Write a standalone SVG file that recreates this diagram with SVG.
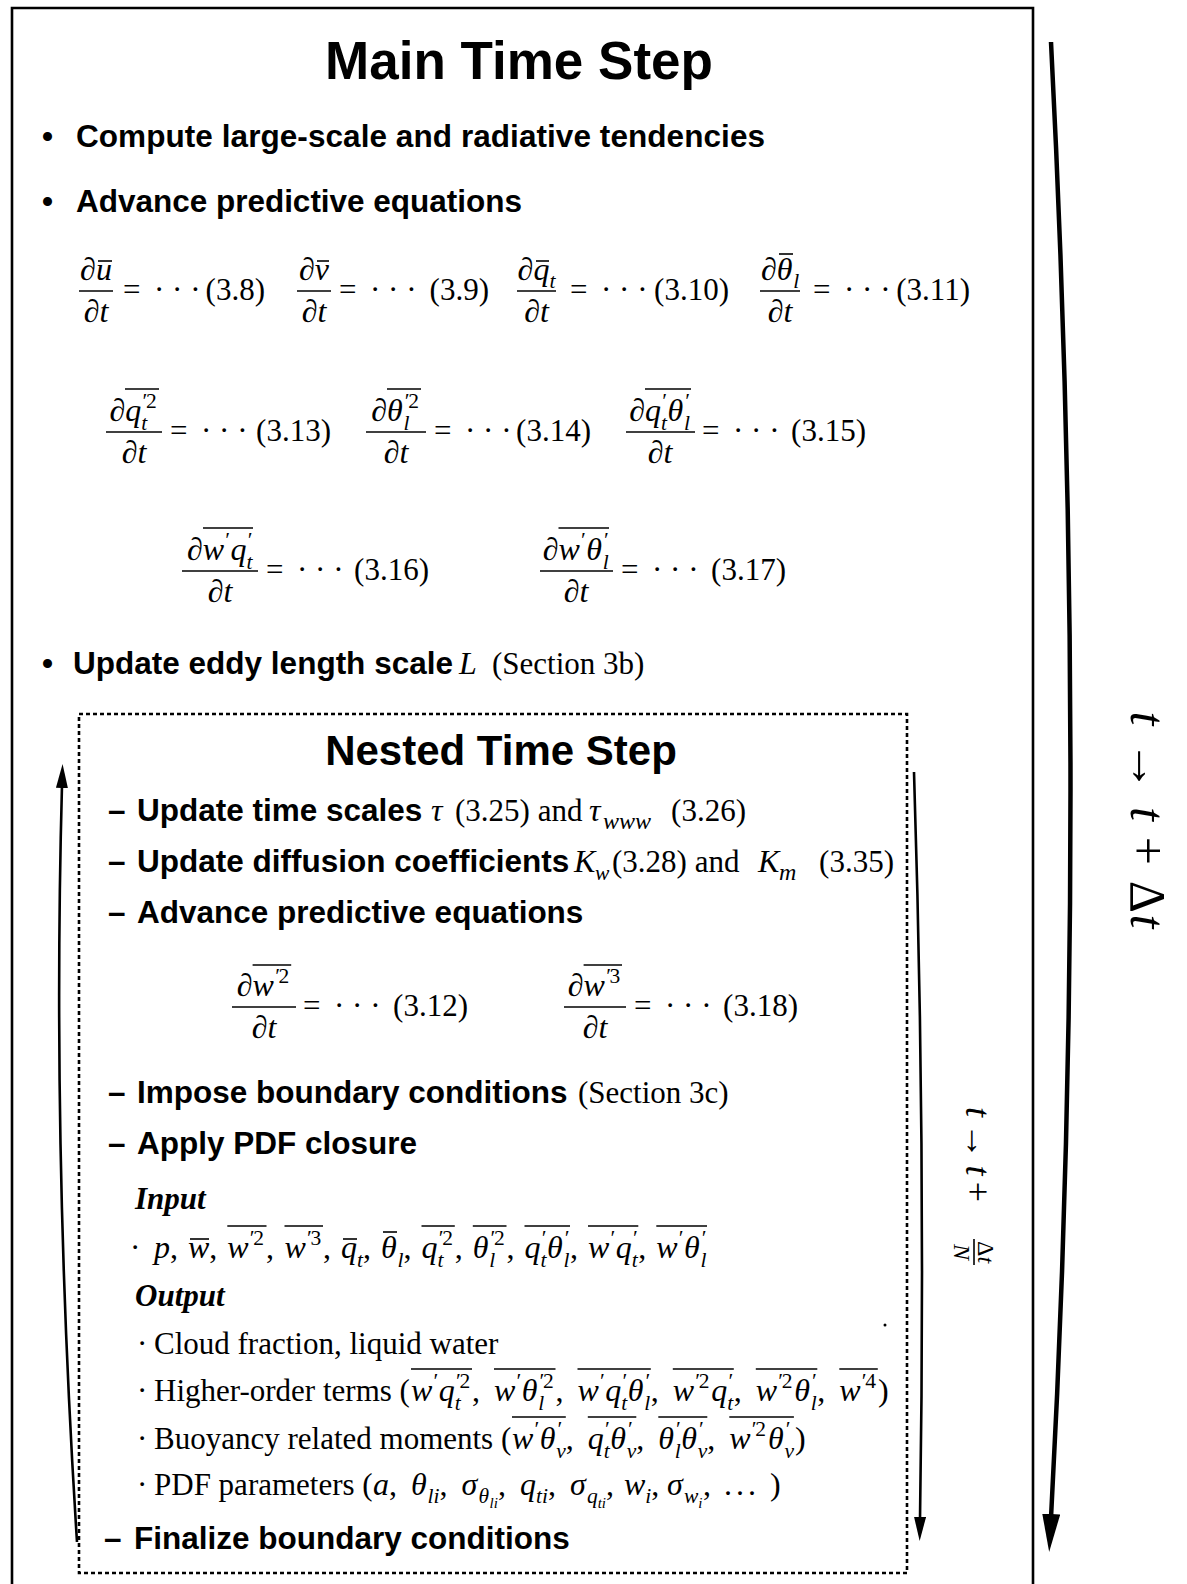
<svg xmlns="http://www.w3.org/2000/svg" width="1187" height="1584" viewBox="0 0 1187 1584">
<style>
.b{font-family:"Liberation Sans",Arial,sans-serif;font-weight:700;font-size:31.5px}
.t{font-family:"Liberation Sans",Arial,sans-serif;font-weight:700}
.r{font-family:"Liberation Serif","Times New Roman",serif;font-size:31px}
.m{font-family:"Liberation Serif","Times New Roman",serif;font-style:italic;font-size:32px}
.bi{font-family:"Liberation Serif","Times New Roman",serif;font-style:italic;font-weight:700;font-size:31px}
.s{font-size:21.5px}
.ss{font-size:15px}
.p{font-size:22px;font-style:normal}
.u{font-style:normal}
.ol,.fr{stroke:#000;stroke-width:1.6}
.box{fill:none;stroke:#000;stroke-width:2.6}
.dot{fill:none;stroke:#000;stroke-width:2.6;stroke-dasharray:4 3}
.arr{fill:none;stroke:#000}
</style>
<defs>
<marker id="big" markerUnits="userSpaceOnUse" markerWidth="38" markerHeight="18" refX="4" refY="9" orient="auto"><path d="M0,0 L38,9 L0,18 z" fill="#000"/></marker>
<marker id="sm" markerUnits="userSpaceOnUse" markerWidth="24" markerHeight="12" refX="3" refY="6" orient="auto"><path d="M0,0 L24,6 L0,12 z" fill="#000"/></marker>
</defs>
<rect width="1187" height="1584" fill="#fff"/>

<g id="main-box">
<path class="box" d="M12,1584 V8 H1033 V1584"/>
<text class="t" x="519" y="79" font-size="53" text-anchor="middle">Main Time Step</text>
<text class="b" x="42" y="147">•</text>
<text class="b" x="76" y="147" textLength="689">Compute large-scale and radiative tendencies</text>
<text class="b" x="42" y="212">•</text>
<text class="b" x="76" y="212" textLength="446">Advance predictive equations</text>
<text class="b" x="42" y="674">•</text>
<text class="b" x="73" y="674" textLength="380">Update eddy length scale</text>
<text class="m" x="459" y="674">L</text>
<text class="r" x="492" y="674">(Section 3b)</text>
</g>

<g id="eq-row1">
<text class="m"><tspan x="80" y="280">∂</tspan><tspan x="96" y="280">u</tspan></text>
<line class="ol" x1="98" y1="261" x2="112" y2="261"/>
<line class="fr" x1="79" y1="291" x2="113" y2="291"/>
<text class="m" x="96" y="322" text-anchor="middle">∂t</text>
<text class="r" y="300"><tspan x="123">=</tspan><tspan x="154">· · ·</tspan></text>
<text class="r" x="265" y="300" text-anchor="end">(3.8)</text>

<text class="m"><tspan x="299" y="280">∂</tspan><tspan x="314.8" y="280">v</tspan></text>
<line class="ol" x1="317" y1="261" x2="329" y2="261"/>
<line class="fr" x1="297" y1="291" x2="331" y2="291"/>
<text class="m" x="314" y="322" text-anchor="middle">∂t</text>
<text class="r" y="300"><tspan x="339">=</tspan><tspan x="370">· · ·</tspan></text>
<text class="r" x="489" y="300" text-anchor="end">(3.9)</text>

<text class="m"><tspan x="517.6" y="280">∂</tspan><tspan x="533.4" y="280">q</tspan><tspan class="s" x="549.4" y="288">t</tspan></text>
<line class="ol" x1="536" y1="261" x2="549" y2="261"/>
<line class="fr" x1="517" y1="291" x2="556" y2="291"/>
<text class="m" x="536.5" y="322" text-anchor="middle">∂t</text>
<text class="r" y="300"><tspan x="570">=</tspan><tspan x="601">· · ·</tspan></text>
<text class="r" x="729" y="300" text-anchor="end">(3.10)</text>

<text class="m"><tspan x="760.9" y="280">∂</tspan><tspan x="776.7" y="280">θ</tspan><tspan class="s" x="793.2" y="288">l</tspan></text>
<line class="ol" x1="779" y1="254" x2="793" y2="254"/>
<line class="fr" x1="760" y1="291" x2="800" y2="291"/>
<text class="m" x="780" y="322" text-anchor="middle">∂t</text>
<text class="r" y="300"><tspan x="813">=</tspan><tspan x="844">· · ·</tspan></text>
<text class="r" x="970" y="300" text-anchor="end">(3.11)</text>
</g>

<g id="eq-row2">
<text class="m"><tspan x="109.5" y="421">∂</tspan><tspan x="125.3" y="421">q</tspan><tspan class="s" x="141.3" y="408">′<tspan class="u">2</tspan></tspan><tspan class="s" x="141.3" y="430">t</tspan></text>
<line class="ol" x1="125" y1="389" x2="159" y2="389"/>
<line class="fr" x1="106" y1="432" x2="162" y2="432"/>
<text class="m" x="134" y="463" text-anchor="middle">∂t</text>
<text class="r" y="441"><tspan x="170">=</tspan><tspan x="201">· · ·</tspan></text>
<text class="r" x="331" y="441" text-anchor="end">(3.13)</text>

<text class="m"><tspan x="371.2" y="421">∂</tspan><tspan x="387" y="421">θ</tspan><tspan class="s" x="403.5" y="408">′<tspan class="u">2</tspan></tspan><tspan class="s" x="403.5" y="430">l</tspan></text>
<line class="ol" x1="387" y1="389" x2="421" y2="389"/>
<line class="fr" x1="366" y1="432" x2="426" y2="432"/>
<text class="m" x="396" y="463" text-anchor="middle">∂t</text>
<text class="r" y="441"><tspan x="434">=</tspan><tspan x="465">· · ·</tspan></text>
<text class="r" x="591" y="441" text-anchor="end">(3.14)</text>

<text class="m"><tspan x="629.3" y="421">∂</tspan><tspan x="645.1" y="421">q</tspan><tspan class="s" x="661.1" y="408">′</tspan><tspan class="s" x="661.1" y="430">t</tspan><tspan x="667.6" y="421">θ</tspan><tspan class="s" x="684.1" y="408">′</tspan><tspan class="s" x="684.1" y="430">l</tspan></text>
<line class="ol" x1="645" y1="389" x2="691" y2="389"/>
<line class="fr" x1="626" y1="432" x2="695" y2="432"/>
<text class="m" x="660" y="463" text-anchor="middle">∂t</text>
<text class="r" y="441"><tspan x="702">=</tspan><tspan x="733">· · ·</tspan></text>
<text class="r" x="866" y="441" text-anchor="end">(3.15)</text>
</g>

<g id="eq-row3">
<text class="m"><tspan x="187" y="560">∂</tspan><tspan x="202.8" y="560">w</tspan><tspan class="s" x="224.1" y="547">′</tspan><tspan x="230.6" y="560">q</tspan><tspan class="s" x="246.6" y="547">′</tspan><tspan class="s" x="246.6" y="569">t</tspan></text>
<line class="ol" x1="203" y1="528" x2="253" y2="528"/>
<line class="fr" x1="182" y1="571" x2="258" y2="571"/>
<text class="m" x="220" y="602" text-anchor="middle">∂t</text>
<text class="r" y="580"><tspan x="266">=</tspan><tspan x="297">· · ·</tspan></text>
<text class="r" x="429" y="580" text-anchor="end">(3.16)</text>

<text class="m"><tspan x="542.7" y="560">∂</tspan><tspan x="558.5" y="560">w</tspan><tspan class="s" x="579.8" y="547">′</tspan><tspan x="586.3" y="560">θ</tspan><tspan class="s" x="602.8" y="547">′</tspan><tspan class="s" x="602.8" y="569">l</tspan></text>
<line class="ol" x1="558.5" y1="528" x2="609" y2="528"/>
<line class="fr" x1="540" y1="571" x2="613" y2="571"/>
<text class="m" x="576" y="602" text-anchor="middle">∂t</text>
<text class="r" y="580"><tspan x="621">=</tspan><tspan x="652">· · ·</tspan></text>
<text class="r" x="786" y="580" text-anchor="end">(3.17)</text>
</g>

<g id="nested-box">
<rect class="dot" x="79" y="714" width="828" height="859"/>
<text class="t" x="501" y="765" font-size="42" text-anchor="middle">Nested Time Step</text>

<text class="b" x="108" y="821">–</text>
<text class="b" x="137" y="821">Update time scales</text>
<text class="m" x="431" y="821">τ</text>
<text class="r" x="455" y="821">(3.25) and</text>
<text class="m"><tspan x="589" y="821">τ</tspan><tspan class="s" x="603" y="829" style="font-size:24px">www</tspan></text>
<text class="r" x="746" y="821" text-anchor="end">(3.26)</text>

<text class="b" x="108" y="872">–</text>
<text class="b" x="137" y="872">Update diffusion coefficients</text>
<text class="m"><tspan x="574" y="872">K</tspan><tspan class="s" x="595" y="880">w</tspan></text>
<text class="r" x="612" y="872">(3.28) and</text>
<text class="m"><tspan x="758" y="872">K</tspan><tspan class="s" x="779" y="880" style="font-size:24px">m</tspan></text>
<text class="r" x="894" y="872" text-anchor="end">(3.35)</text>

<text class="b" x="108" y="923">–</text>
<text class="b" x="137" y="923">Advance predictive equations</text>

<text class="m"><tspan x="236.8" y="996">∂</tspan><tspan x="252.6" y="996">w</tspan><tspan class="s" x="273.9" y="983">′<tspan class="u">2</tspan></tspan></text>
<line class="ol" x1="252.6" y1="965" x2="291.2" y2="965"/>
<line class="fr" x1="232" y1="1007" x2="296" y2="1007"/>
<text class="m" x="264" y="1038" text-anchor="middle">∂t</text>
<text class="r" y="1016"><tspan x="303">=</tspan><tspan x="334">· · ·</tspan></text>
<text class="r" x="468" y="1016" text-anchor="end">(3.12)</text>

<text class="m"><tspan x="567.8" y="996">∂</tspan><tspan x="583.6" y="996">w</tspan><tspan class="s" x="604.9" y="983">′<tspan class="u">3</tspan></tspan></text>
<line class="ol" x1="583.6" y1="965" x2="622" y2="965"/>
<line class="fr" x1="564" y1="1007" x2="626" y2="1007"/>
<text class="m" x="595" y="1038" text-anchor="middle">∂t</text>
<text class="r" y="1016"><tspan x="634">=</tspan><tspan x="665">· · ·</tspan></text>
<text class="r" x="798" y="1016" text-anchor="end">(3.18)</text>

<text class="b" x="108" y="1103">–</text>
<text class="b" x="137" y="1103">Impose boundary conditions</text>
<text class="r" x="578" y="1103">(Section 3c)</text>

<text class="b" x="108" y="1154">–</text>
<text class="b" x="137" y="1154">Apply PDF closure</text>

<text class="bi" x="135" y="1209">Input</text>
<text class="r" x="130" y="1258">·</text>
<text class="m">
<tspan x="154" y="1258">p</tspan><tspan class="u" x="170" y="1258">,</tspan>
<tspan x="188" y="1258">w</tspan><tspan class="u" x="209.3" y="1258">,</tspan>
<tspan x="227.3" y="1258">w</tspan><tspan class="s" x="248.6" y="1245">′<tspan class="u">2</tspan></tspan><tspan class="u" x="266" y="1258">,</tspan>
<tspan x="284.5" y="1258">w</tspan><tspan class="s" x="305.8" y="1245">′<tspan class="u">3</tspan></tspan><tspan class="u" x="323" y="1258">,</tspan>
<tspan x="341" y="1258">q</tspan><tspan class="s" x="357" y="1267">t</tspan><tspan class="u" x="363" y="1258">,</tspan>
<tspan x="381" y="1258">θ</tspan><tspan class="s" x="397.5" y="1267">l</tspan><tspan class="u" x="403.5" y="1258">,</tspan>
<tspan x="421.5" y="1258">q</tspan><tspan class="s" x="437.5" y="1245">′<tspan class="u">2</tspan></tspan><tspan class="s" x="437.5" y="1267">t</tspan><tspan class="u" x="454.8" y="1258">,</tspan>
<tspan x="472.8" y="1258">θ</tspan><tspan class="s" x="489.3" y="1245">′<tspan class="u">2</tspan></tspan><tspan class="s" x="489.3" y="1267">l</tspan><tspan class="u" x="506.5" y="1258">,</tspan>
<tspan x="524.5" y="1258">q</tspan><tspan class="s" x="540.5" y="1245">′</tspan><tspan class="s" x="540.5" y="1267">t</tspan><tspan x="547" y="1258">θ</tspan><tspan class="s" x="563.5" y="1245">′</tspan><tspan class="s" x="563.5" y="1267">l</tspan><tspan class="u" x="570" y="1258">,</tspan>
<tspan x="588" y="1258">w</tspan><tspan class="s" x="609.3" y="1245">′</tspan><tspan x="615.8" y="1258">q</tspan><tspan class="s" x="631.8" y="1245">′</tspan><tspan class="s" x="631.8" y="1267">t</tspan><tspan class="u" x="638.3" y="1258">,</tspan>
<tspan x="656.3" y="1258">w</tspan><tspan class="s" x="677.6" y="1245">′</tspan><tspan x="684.1" y="1258">θ</tspan><tspan class="s" x="700.6" y="1245">′</tspan><tspan class="s" x="700.6" y="1267">l</tspan>
</text>
<line class="ol" x1="190" y1="1239" x2="209" y2="1239"/>
<line class="ol" x1="227.3" y1="1226" x2="266.5" y2="1226"/>
<line class="ol" x1="284.5" y1="1226" x2="323" y2="1226"/>
<line class="ol" x1="343" y1="1239" x2="357" y2="1239"/>
<line class="ol" x1="383" y1="1232" x2="397" y2="1232"/>
<line class="ol" x1="421.5" y1="1226" x2="454.8" y2="1226"/>
<line class="ol" x1="472.8" y1="1226" x2="506.5" y2="1226"/>
<line class="ol" x1="524.5" y1="1226" x2="570" y2="1226"/>
<line class="ol" x1="588" y1="1226" x2="638.3" y2="1226"/>
<line class="ol" x1="656.3" y1="1226" x2="707" y2="1226"/>

<text class="bi" x="135" y="1306">Output</text>
<text class="r" x="137" y="1354">·</text>
<text class="r" x="154" y="1354">Cloud fraction, liquid water</text>
<circle cx="885" cy="1325" r="1.5" fill="#000"/>

<text class="r" x="137" y="1401">·</text>
<text class="r" x="154" y="1401">Higher-order terms (</text>
<text class="m">
<tspan x="411" y="1401">w</tspan><tspan class="s" x="432.3" y="1388">′</tspan><tspan x="438.8" y="1401">q</tspan><tspan class="s" x="454.8" y="1388">′<tspan class="u">2</tspan></tspan><tspan class="s" x="454.8" y="1410">t</tspan><tspan class="u" x="472" y="1401">,</tspan>
<tspan x="494" y="1401">w</tspan><tspan class="s" x="515.3" y="1388">′</tspan><tspan x="521.8" y="1401">θ</tspan><tspan class="s" x="538.3" y="1388">′<tspan class="u">2</tspan></tspan><tspan class="s" x="538.3" y="1410">l</tspan><tspan class="u" x="555.5" y="1401">,</tspan>
<tspan x="577.5" y="1401">w</tspan><tspan class="s" x="598.8" y="1388">′</tspan><tspan x="605.3" y="1401">q</tspan><tspan class="s" x="621.3" y="1388">′</tspan><tspan class="s" x="621.3" y="1410">t</tspan><tspan x="627.8" y="1401">θ</tspan><tspan class="s" x="644.3" y="1388">′</tspan><tspan class="s" x="644.3" y="1410">l</tspan><tspan class="u" x="650.8" y="1401">,</tspan>
<tspan x="672.8" y="1401">w</tspan><tspan class="s" x="694.1" y="1388">′<tspan class="u">2</tspan></tspan><tspan x="711.3" y="1401">q</tspan><tspan class="s" x="727.3" y="1388">′</tspan><tspan class="s" x="727.3" y="1410">t</tspan><tspan class="u" x="733.8" y="1401">,</tspan>
<tspan x="755.8" y="1401">w</tspan><tspan class="s" x="777.1" y="1388">′<tspan class="u">2</tspan></tspan><tspan x="794.3" y="1401">θ</tspan><tspan class="s" x="810.8" y="1388">′</tspan><tspan class="s" x="810.8" y="1410">l</tspan><tspan class="u" x="817.3" y="1401">,</tspan>
<tspan x="839.3" y="1401">w</tspan><tspan class="s" x="860.6" y="1388">′<tspan class="u">4</tspan></tspan><tspan class="u" x="878" y="1401">)</tspan>
</text>
<line class="ol" x1="411" y1="1369" x2="472" y2="1369"/>
<line class="ol" x1="494" y1="1369" x2="555.5" y2="1369"/>
<line class="ol" x1="577.5" y1="1369" x2="650.8" y2="1369"/>
<line class="ol" x1="672.8" y1="1369" x2="733.8" y2="1369"/>
<line class="ol" x1="755.8" y1="1369" x2="817.3" y2="1369"/>
<line class="ol" x1="839.3" y1="1369" x2="877.8" y2="1369"/>

<text class="r" x="137" y="1449">·</text>
<text class="r" x="154" y="1449">Buoyancy related moments (</text>
<text class="m">
<tspan x="512" y="1449">w</tspan><tspan class="s" x="533.3" y="1436">′</tspan><tspan x="539.8" y="1449">θ</tspan><tspan class="s" x="556.3" y="1436">′</tspan><tspan class="s" x="556.3" y="1458">v</tspan><tspan class="u" x="565.8" y="1449">,</tspan>
<tspan x="587.8" y="1449">q</tspan><tspan class="s" x="603.8" y="1436">′</tspan><tspan class="s" x="603.8" y="1458">t</tspan><tspan x="610.3" y="1449">θ</tspan><tspan class="s" x="626.8" y="1436">′</tspan><tspan class="s" x="626.8" y="1458">v</tspan><tspan class="u" x="636.3" y="1449">,</tspan>
<tspan x="658.3" y="1449">θ</tspan><tspan class="s" x="674.8" y="1436">′</tspan><tspan class="s" x="674.8" y="1458">l</tspan><tspan x="681.3" y="1449">θ</tspan><tspan class="s" x="697.8" y="1436">′</tspan><tspan class="s" x="697.8" y="1458">v</tspan><tspan class="u" x="707.3" y="1449">,</tspan>
<tspan x="729.3" y="1449">w</tspan><tspan class="s" x="750.6" y="1436">′<tspan class="u">2</tspan></tspan><tspan x="767.9" y="1449">θ</tspan><tspan class="s" x="784.4" y="1436">′</tspan><tspan class="s" x="784.4" y="1458">v</tspan><tspan class="u" x="795" y="1449">)</tspan>
</text>
<line class="ol" x1="512" y1="1417" x2="565.8" y2="1417"/>
<line class="ol" x1="587.8" y1="1417" x2="636.3" y2="1417"/>
<line class="ol" x1="658.3" y1="1417" x2="707.3" y2="1417"/>
<line class="ol" x1="729.3" y1="1417" x2="793.9" y2="1417"/>

<text class="r" x="137" y="1495">·</text>
<text class="r" x="154" y="1495">PDF parameters (</text>
<text class="m">
<tspan x="373" y="1495">a</tspan><tspan class="u" x="389" y="1495">,</tspan>
<tspan x="411" y="1495">θ</tspan><tspan class="s" x="427.5" y="1503">li</tspan><tspan class="u" x="439.5" y="1495">,</tspan>
<tspan x="461.5" y="1495">σ</tspan><tspan class="s" x="478.5" y="1503">θ</tspan><tspan class="ss" x="489.5" y="1508">li</tspan><tspan class="u" x="498" y="1495">,</tspan>
<tspan x="520" y="1495">q</tspan><tspan class="s" x="536" y="1503">ti</tspan><tspan class="u" x="548" y="1495">,</tspan>
<tspan x="570" y="1495">σ</tspan><tspan class="s" x="587" y="1503">q</tspan><tspan class="ss" x="597.7" y="1508">ti</tspan><tspan class="u" x="606" y="1495">,</tspan>
<tspan x="624" y="1495">w</tspan><tspan class="s" x="645.3" y="1503">i</tspan><tspan class="u" x="651.3" y="1495">,</tspan>
<tspan x="667" y="1495">σ</tspan><tspan class="s" x="684" y="1503">w</tspan><tspan class="ss" x="698.3" y="1508">i</tspan><tspan class="u" x="703" y="1495">,</tspan>
<tspan class="u" x="724" y="1495">.</tspan><tspan class="u" x="736" y="1495">.</tspan><tspan class="u" x="748" y="1495">.</tspan><tspan class="u" x="770" y="1495">)</tspan>
</text>

<text class="b" x="104" y="1549">–</text>
<text class="b" x="134" y="1549">Finalize boundary conditions</text>
</g>

<g id="labels">
<text class="m" transform="translate(1131,820) rotate(90)" x="0" y="0" style="font-size:50px" text-anchor="middle" textLength="217" lengthAdjust="spacing">t<tspan class="u"> → </tspan>t<tspan class="u"> + Δ</tspan>t</text>
<g transform="translate(966,1175) rotate(90)">
<text class="m" x="-68" y="0" style="font-size:36px" textLength="95" lengthAdjust="spacing">t<tspan class="u"> → </tspan>t<tspan class="u"> +</tspan></text>
<text class="m" x="66" y="-12" style="font-size:24px"><tspan class="u">Δ</tspan>t</text>
<line class="ol" x1="64" y1="-8" x2="90" y2="-8"/>
<text class="m" x="69" y="12" style="font-size:24px">N</text>
</g>
</g>

<g id="connectors">
<path class="arr" stroke-width="4.5" d="M1051,42 Q1090,800 1051,1518" marker-end="url(#big)"/>
<path class="arr" stroke-width="2.6" d="M914,772 Q926,1150 920,1520" marker-end="url(#sm)"/>
<path class="arr" stroke-width="2.6" d="M77,1542 Q52,1150 62,785" marker-end="url(#sm)"/>
</g>
</svg>
